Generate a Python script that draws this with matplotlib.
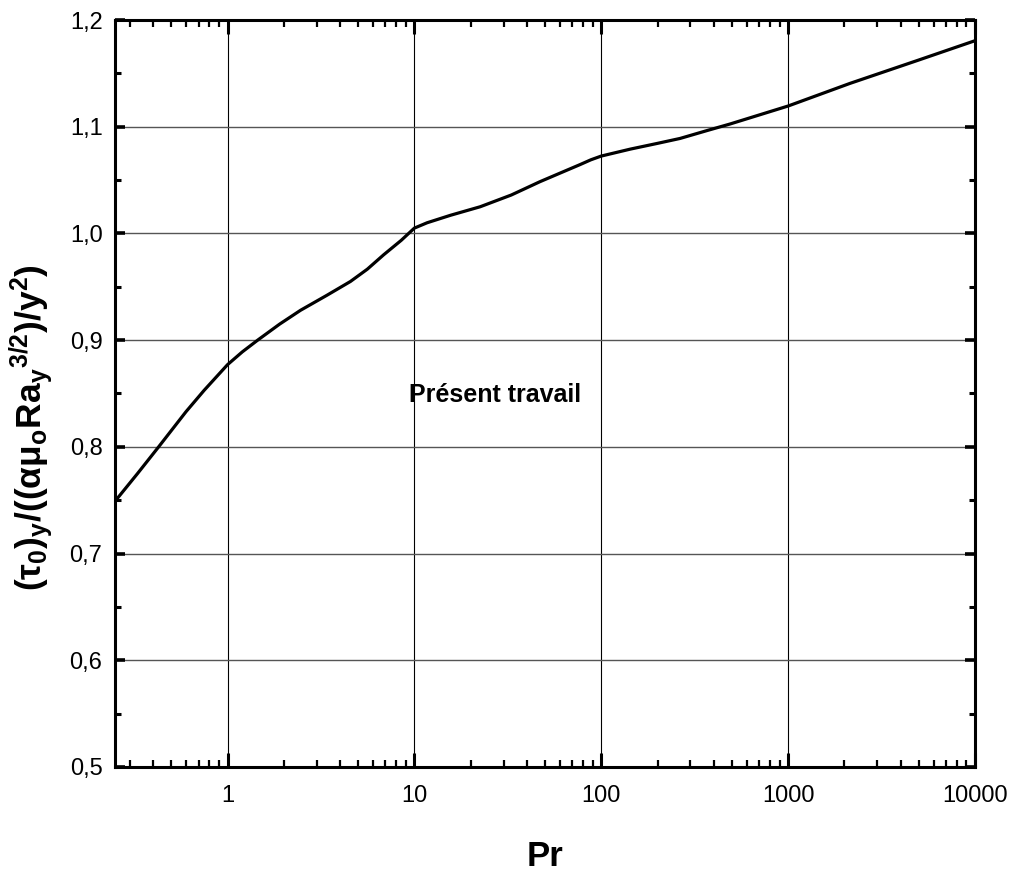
import matplotlib
matplotlib.use("Agg")
import matplotlib.pyplot as plt
from matplotlib.ticker import FixedLocator, LogLocator, NullFormatter

pr = [0.25, 0.33, 0.428, 0.6, 0.75, 1.0, 1.2, 1.45, 1.9, 2.46, 3.4, 4.55, 5.6, 6.85,
      8.5, 10.0, 11.7, 15.6, 22.5, 33.0, 47.0, 63.0, 77.0, 88.0, 100.0, 143.0, 200.0,
      264.0, 370.0, 488.0, 1000.0, 2143.0, 5000.0, 10000.0]
tau = [0.749, 0.775, 0.800, 0.833, 0.853, 0.877, 0.889, 0.900, 0.915, 0.928, 0.942,
       0.955, 0.9665, 0.980, 0.9935, 1.005, 1.010, 1.017, 1.025, 1.036, 1.0485, 1.058,
       1.0645, 1.069, 1.0725, 1.079, 1.0844, 1.089, 1.0965, 1.1025, 1.1194, 1.1406,
       1.1625, 1.1806]

x_ticks = [1, 10, 100, 1000, 10000]
x_ticklabels = ['1', '10', '100', '1000', '10000']
y_ticks = [0.5, 0.6, 0.7, 0.8, 0.9, 1.0, 1.1, 1.2]
y_ticklabels = ['0,5', '0,6', '0,7', '0,8', '0,9', '1,0', '1,1', '1,2']
y_minor = [0.55, 0.65, 0.75, 0.85, 0.95, 1.05, 1.15]

plt.rcParams['font.family'] = ['Liberation Sans', 'DejaVu Sans']
plt.rcParams['mathtext.fontset'] = 'custom'
plt.rcParams['mathtext.rm'] = 'Liberation Sans'
plt.rcParams['mathtext.bf'] = 'Liberation Sans:bold'
plt.rcParams['mathtext.it'] = 'Liberation Sans:bold'

fig = plt.figure(figsize=(10.11, 8.75), dpi=100)
ax = fig.add_axes([115/1011, 1-767/875, (975-115)/1011, (767-20)/875])

ax.plot(pr, tau, color='black', lw=2.3, solid_joinstyle='round')
ax.set_xscale('log')
ax.set_xlim(0.25, 10000)
ax.set_ylim(0.5, 1.2)

ax.xaxis.set_major_locator(FixedLocator(x_ticks))
ax.set_xticklabels(x_ticklabels)
ax.xaxis.set_minor_locator(LogLocator(base=10, subs=range(2, 10), numticks=20))
ax.xaxis.set_minor_formatter(NullFormatter())
ax.set_yticks(y_ticks)
ax.set_yticklabels(y_ticklabels)
ax.set_yticks(y_minor, minor=True)

for s in ax.spines.values():
    s.set_linewidth(2.2)

ax.tick_params(axis='x', which='major', direction='in', length=10, width=2.2,
               top=True, bottom=True, labelsize=17, pad=13)
ax.tick_params(axis='x', which='minor', direction='in', length=5, width=1.6,
               top=True, bottom=True)
ax.tick_params(axis='y', which='major', direction='in', length=7, width=2.6,
               left=True, right=True, labelsize=17, pad=9)
ax.tick_params(axis='y', which='minor', direction='in', length=4, width=2.2,
               left=True, right=True)

ax.grid(True, axis='x', which='major', color='black', lw=0.8)
ax.grid(True, axis='y', which='major', color='#555555', lw=1.0)
ax.set_axisbelow(True)

ax.set_xlabel('Pr', fontsize=25, fontweight='bold', labelpad=24)
ax.set_ylabel(r'$\mathbf{(\tau_0)_y/((\alpha\mu_o Ra_y{}^{3/2})/y^2)}$',
              fontsize=25.5)
ax.yaxis.set_label_coords(-0.070, 0.454)

ax.text(27, 0.8486, 'Présent travail', fontsize=18, fontweight='bold',
        ha='center', va='center')

fig.savefig('out.png', dpi=100)
